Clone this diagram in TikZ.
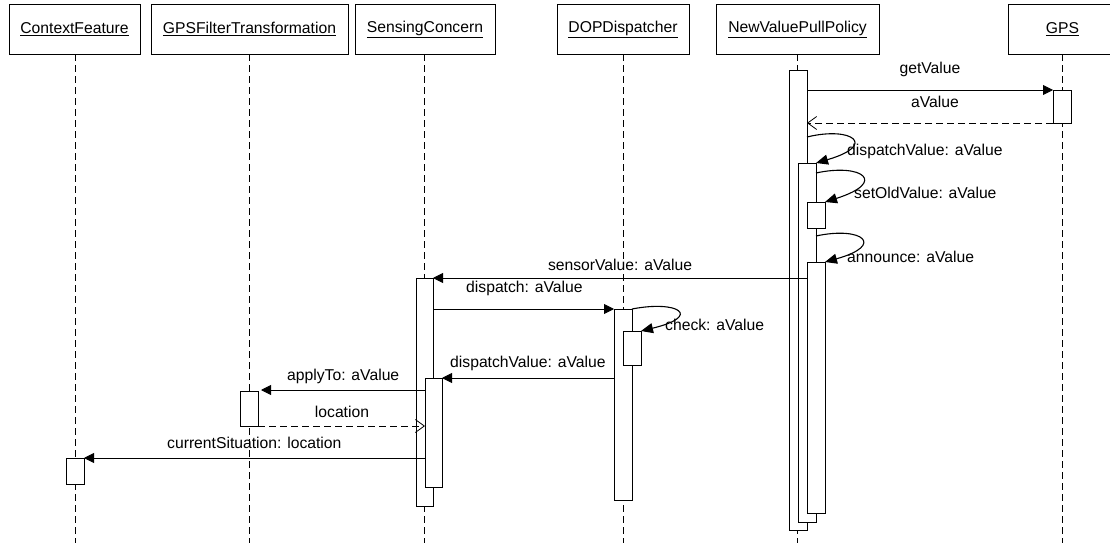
\documentclass[tikz,border=0pt]{standalone}
\usepackage{fontspec}
\setmainfont{Liberation Sans}
\usetikzlibrary{arrows.meta}
\tikzset{
  hdr/.style={draw, line width=0.8pt, inner sep=0pt, font=\fontsize{15.7}{18}\selectfont},
  lbl/.style={inner sep=0pt, font=\fontsize{15.7}{18}\selectfont},
  life/.style={line width=0.8pt, dash pattern=on 7pt off 4pt},
  bar/.style={draw, fill=white, line width=0.8pt},
  msg/.style={line width=0.9pt, -{Triangle[length=10pt,width=10pt]}},
  selfmsg/.style={line width=1.1pt, -{Triangle[length=12pt,width=10pt]}},
  ret/.style={line width=0.8pt, dash pattern=on 7pt off 4pt, -{Straight Barb[length=9pt,width=13pt]}},
}
\begin{document}
\begin{tikzpicture}[x=1pt,y=-1pt]
\useasboundingbox (0,0) rectangle (1110,543);
\fill[white] (0,0) rectangle (1110,543);
% header boxes
\node[hdr, minimum width=131pt, minimum height=50pt] (cf) at (74.5,29) {\underline{ContextFeature}};
\node[hdr, minimum width=197pt, minimum height=50pt] (gf) at (249.5,29) {\underline{GPSFilterTransformation}};
\node[hdr, minimum width=140pt, minimum height=50pt] (sc) at (425,29) {\underline{SensingConcern}};
\node[hdr, minimum width=132pt, minimum height=50pt] (dop) at (623,29) {\underline{DOPDispatcher}};
\node[hdr, minimum width=163pt, minimum height=50pt] (nv) at (797.5,29) {\underline{NewValuePullPolicy}};
\node[hdr, minimum width=109pt, minimum height=50pt] (gps) at (1062.5,29) {\underline{GPS}};
% lifelines
\coordinate (cfe) at (75,543);
\coordinate (gfe) at (249,543);
\coordinate (sce) at (424,543);
\coordinate (dope) at (623,543);
\coordinate (nve) at (797.5,543);
\coordinate (gpse) at (1062.5,543);
\draw[life] (cf.south -| cfe) -- (cfe);
\draw[life] (gf.south -| gfe) -- (gfe);
\draw[life] (sc.south -| sce) -- (sce);
\draw[life] (dop.south -| dope) -- (dope);
\draw[life] (nv.south -| nve) -- (nve);
\draw[life] (gps.south -| gpse) -- (gpse);
% activation bars
\draw[bar] (789,70) rectangle (807,530);
\draw[bar] (798,163) rectangle (816,522);
\draw[bar] (807,202) rectangle (825,228);
\draw[bar] (807,262) rectangle (825,513);
\draw[bar] (1053,90) rectangle (1071,123);
\draw[bar] (416,278) rectangle (433,506);
\draw[bar] (425,378) rectangle (442,487);
\draw[bar] (614,309) rectangle (632,500);
\draw[bar] (623,331) rectangle (641,365);
\draw[bar] (240,391) rectangle (258,426);
\draw[bar] (66,458) rectangle (84,484);
% message end points
\coordinate (m1a) at (807,90);   \coordinate (m1b) at (1053,90);
\coordinate (m2a) at (1053,123); \coordinate (m2b) at (807,123);
\coordinate (m3a) at (807,137);  \coordinate (m3b) at (816,163);
\coordinate (m4a) at (816,173);  \coordinate (m4b) at (825,202);
\coordinate (m5a) at (816,236);  \coordinate (m5b) at (825,262);
\coordinate (m6a) at (807,278);  \coordinate (m6b) at (433,278);
\coordinate (m7a) at (433,309);  \coordinate (m7b) at (614,309);
\coordinate (m8a) at (632,309);  \coordinate (m8b) at (641,331);
\coordinate (m9a) at (614,378);  \coordinate (m9b) at (442,378);
\coordinate (m10a) at (425,390); \coordinate (m10b) at (261,390);
\coordinate (m11a) at (258,426); \coordinate (m11b) at (425,426);
\coordinate (m12a) at (425,458); \coordinate (m12b) at (84,458);
% messages
\draw[msg] (m1a) -- (m1b);
\draw[ret] (m2a) -- (m2b);
\draw[selfmsg] (m3a) .. controls (852,126) and (878,145) .. (m3b);
\draw[selfmsg] (m4a) .. controls (862,163) and (888,182) .. (m4b);
\draw[selfmsg] (m5a) .. controls (862,226) and (886,245) .. (m5b);
\draw[msg] (m6a) -- (m6b);
\draw[msg] (m7a) -- (m7b);
\draw[selfmsg] (m8a) .. controls (678,300) and (703,316) .. (m8b);
\draw[msg] (m9a) -- (m9b);
\draw[msg] (m10a) -- (m10b);
\draw[ret] (m11a) -- (m11b);
\draw[msg] (m12a) -- (m12b);
% labels
\node[lbl] (l1) at (930,69) {getValue};
\node[lbl] (l2) at (935,102) {aValue};
\node[lbl, anchor=west] (l3) at (847,151) {dispatchValue: aValue};
\node[lbl, anchor=west] (l4) at (854,193) {setOldValue: aValue};
\node[lbl, anchor=west] (l5) at (847,257) {announce: aValue};
\node[lbl] (l6) at (620,265) {sensorValue: aValue};
\node[lbl, anchor=west] (l7) at (466,288) {dispatch: aValue};
\node[lbl, anchor=west] (l8) at (665,325) {check: aValue};
\node[lbl, anchor=west] (l9) at (450,363) {dispatchValue: aValue};
\node[lbl, anchor=west] (l10) at (287,376) {applyTo: aValue};
\node[lbl] (l11) at (342,412) {location};
\node[lbl, anchor=west] (l12) at (167,443) {currentSituation: location};
\end{tikzpicture}
\end{document}
